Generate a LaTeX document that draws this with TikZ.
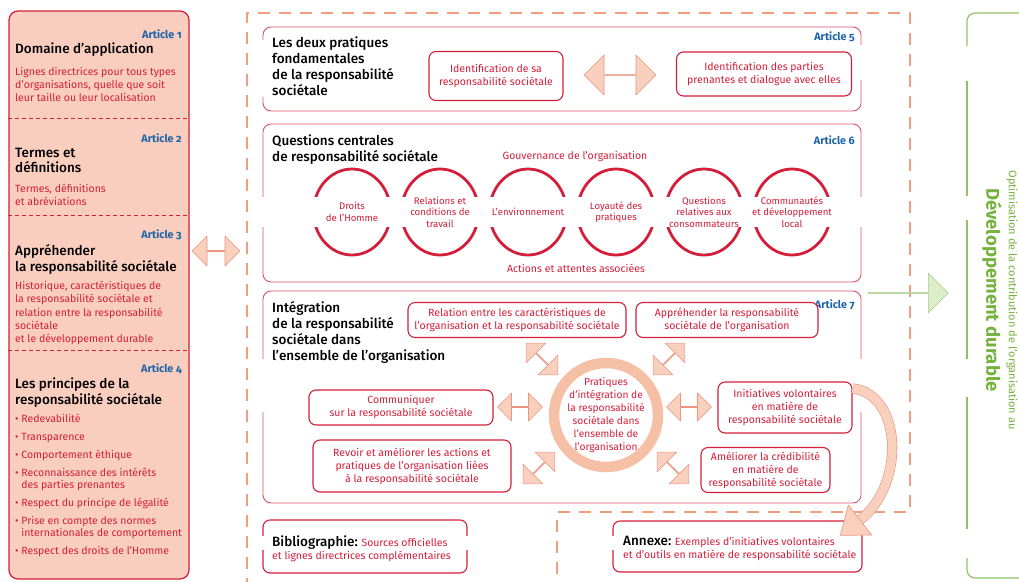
\documentclass[tikz,border=0pt]{standalone}
\usepackage{fontspec}
\setmainfont{Fira Sans}
\newfontfamily\headfont[Ligatures=TeX]{Fira Sans Medium}
\usetikzlibrary{shapes.arrows}
\usetikzlibrary{shapes.geometric}
\usetikzlibrary{positioning}

\definecolor{isored}{RGB}{212,30,58}
\definecolor{boxred}{RGB}{222,80,102}
\definecolor{artblue}{RGB}{28,100,170}
\definecolor{panelfill}{RGB}{249,206,190}
\definecolor{arrowfill}{RGB}{249,207,190}
\definecolor{arrowline}{RGB}{235,148,128}
\definecolor{frameorange}{RGB}{241,158,125}
\definecolor{ringfill}{RGB}{246,192,167}
\definecolor{devgreen}{RGB}{118,178,62}
\definecolor{greenfill}{RGB}{221,236,203}
\definecolor{greenline}{RGB}{168,204,132}

\newcommand{\artfont}{\fontsize{10.8}{12}\selectfont\bfseries\addfontfeatures{Numbers=OldStyle}}

\begin{document}
\begin{tikzpicture}[x=1pt, y=-1pt, line join=round,
  article/.style={font=\artfont, text=artblue, inner sep=0pt, anchor=north east},
  heading/.style={font=\fontsize{13.5}{16}\headfont, align=left, inner sep=0pt, anchor=north west},
  redtext/.style={font=\fontsize{10.5}{13}\selectfont, text=isored, align=left, inner sep=0pt, anchor=north west},
  panel/.style={draw=isored, fill=panelfill, line width=1.2pt, rounded corners=9pt, minimum width=180pt, minimum height=568pt, inner sep=0pt},
  divider/.style={draw=isored, dash pattern=on 4pt off 3pt, line width=0.9pt},
  frameline/.style={draw=frameorange, dash pattern=on 12pt off 9pt, line width=2.6pt},
  section/.style={draw=boxred, line width=0.9pt, rounded corners=8pt, inner sep=0pt},
  practice/.style={draw=isored, line width=1.1pt, rounded corners=7pt, fill=white, text=isored, align=center, font=\fontsize{10.5}{13}\selectfont, inner sep=0pt},
  theme/.style={ellipse, draw=isored, line width=2.8pt, minimum width=77pt, minimum height=86pt, inner sep=0pt},
  themelabel/.style={text=isored, align=center, font=\fontsize{9.6}{11.5}\selectfont, inner sep=0pt},
  both ways/.style={double arrow, draw=arrowline, fill=arrowfill, line width=0.6pt, inner sep=0pt},
  spoke/.style={both ways, minimum height=45pt, minimum width=28pt, double arrow head extend=7.5pt},
  band/.style={draw=arrowline, line width=0.6pt, double=arrowfill, double distance=9pt},
  gap/.style={fill=white},
  bracket/.style={draw=devgreen!80!white, line width=1.2pt, rounded corners=8pt}]

  \useasboundingbox (0,0) rectangle (1019,581);

  \draw[frameline] (247,590) |- (910,13) |- (557,512) -- (557,590);

  \node[panel] (panel) at (99,295) {};
  \draw[divider] (panel.west |- 0,118) -- (panel.east |- 0,118);
  \draw[divider] (panel.west |- 0,215) -- (panel.east |- 0,215);
  \draw[divider] (panel.west |- 0,350) -- (panel.east |- 0,350);

  \node[article] (art1) at (182,29.3) {Article 1};
  \node[heading] (scopetitle) at (15,42.8) {Domaine d'application};
  \node[redtext] (scopetext) at (15,67) {Lignes directrices pour tous types\\d'organisations, quelle que soit\\leur taille ou leur localisation};

  \node[article] (art2) at (182,133.3) {Article 2};
  \node[heading, font=\fontsize{13.5}{15.5}\headfont] (termstitle) at (15,147.8) {Termes et\\définitions};
  \node[redtext] (termstext) at (15,184) {Termes, définitions\\et abréviations};

  \node[article] (art3) at (182,229.3) {Article 3};
  \node[heading] (grasptitle) at (15,243.8) {Appréhender\\la responsabilité sociétale};
  \node[redtext, font=\fontsize{10.5}{13.3}\selectfont] (grasptext) at (15,281) {Historique, caractéristiques de\\la responsabilité sociétale et\\relation entre la responsabilité\\sociétale\\et le développement durable};

  \node[article] (art4) at (182,363.3) {Article 4};
  \node[heading, font=\fontsize{13.5}{15.5}\headfont] (princtitle) at (15,377.8) {Les principes de la\\responsabilité sociétale};
  \node[redtext, font=\fontsize{10.5}{12}\selectfont] (princlist) at (15,414) {%
    \textbullet\ Redevabilité\\[6pt]
    \textbullet\ Transparence\\[6pt]
    \textbullet\ Comportement éthique\\[6pt]
    \textbullet\ Reconnaissance des intérêts\\
    \hphantom{\textbullet\ }des parties prenantes\\[6pt]
    \textbullet\ Respect du principe de légalité\\[6pt]
    \textbullet\ Prise en compte des normes\\
    \hphantom{\textbullet\ }internationales de comportement\\[6pt]
    \textbullet\ Respect des droits de l'Homme};

  \node[both ways, minimum height=48pt, minimum width=30pt, double arrow head extend=8pt] (panellink) at (216,251) {};

  \node[section, minimum width=598pt, minimum height=84pt] (sec5) at (562,69) {};
  \fill[gap] (258,40) rectangle (268,97);
  \fill[gap] (856,45) rectangle (866,80);
  \node[heading] (sec5title) at (272,36.8) {Les deux pratiques\\fondamentales\\de la responsabilité\\sociétale};
  \node[article] (art5) at (855,31.5) {Article 5};
  \node[practice, minimum width=134pt, minimum height=49pt] (ownresp) at (496,76) {Identification de sa\\responsabilité sociétale};
  \node[both ways, minimum height=72pt, minimum width=40pt, double arrow head extend=10pt] (sec5arrow) at (620,75) {};
  \node[practice, minimum width=175pt, minimum height=44pt] (stakeholders) at (764,74) {Identification des parties\\prenantes et dialogue avec elles};

  \node[section, minimum width=598pt, minimum height=158pt] (sec6) at (562,203) {};
  \foreach \cx [count=\i] in {352,440,528,616,704,792}
    \node[theme] (theme\i) at (\cx,212) {};
  \fill[gap] (255,197) rectangle (869,227);
  \foreach \txt [count=\i] in {{Droits\\de l'Homme}, {Relations et\\conditions de\\travail}, {L'environnement}, {Loyauté des\\pratiques}, {Questions\\relatives aux\\consommateurs}, {Communautés\\et développement\\local}}
    \node[themelabel] (themelabel\i) at (theme\i) {\txt};
  \node[heading, font=\fontsize{13.5}{15.5}\headfont] (sec6title) at (272,134.8) {Questions centrales\\de responsabilité sociétale};
  \node[article] (art6) at (855,135.3) {Article 6};
  \node[redtext, anchor=center] (governance) at (575,157) {Gouvernance de l'organisation};
  \node[redtext, anchor=center] (actions) at (576,268) {Actions et attentes associées};

  \node[section, minimum width=598pt, minimum height=212pt] (sec7) at (562,397) {};
  \fill[gap] (258,359) rectangle (268,412);
  \fill[gap] (856,359) rectangle (866,412);
  \node[heading] (sec7title) at (272,300.8) {Intégration\\de la responsabilité\\sociétale dans\\l'ensemble de l'organisation};
  \node[article] (art7) at (855,299.3) {Article 7};
  \node[practice, minimum width=218pt, minimum height=35pt] (traits) at (517,320) {Relation entre les caractéristiques de\\l'organisation et la responsabilité sociétale};
  \node[practice, minimum width=182pt, minimum height=35pt] (understand) at (727,320) {Appréhender la responsabilité\\sociétale de l'organisation};
  \node[practice, minimum width=184pt, minimum height=35pt] (communicate) at (401,407.5) {Communiquer\\sur la responsabilité sociétale};
  \node[practice, minimum width=198pt, minimum height=52pt] (review) at (412,466) {Revoir et améliorer les actions et\\pratiques de l'organisation liées\\à la responsabilité sociétale};
  \node[practice, minimum width=134pt, minimum height=51pt] (initiatives) at (785,407.5) {Initiatives volontaires\\en matière de\\responsabilité sociétale};
  \node[practice, minimum width=129pt, minimum height=45pt] (credibility) at (765.5,470) {Améliorer la crédibilité\\en matière de\\responsabilité sociétale};
  \node[circle, draw=ringfill, line width=10.5pt, minimum size=104pt, inner sep=0pt] (hub) at (606,415) {};
  \node[themelabel, font=\fontsize{10.2}{13}\selectfont] (hublabel) at (hub) {Pratiques\\d'intégration de\\la responsabilité\\sociétale dans\\l'ensemble de\\l'organisation};
  \node[spoke, rotate=-45] (hubtraits) at (542,359) {};
  \node[spoke, rotate=45] (hubunderstand) at (669,359) {};
  \node[spoke] (hubcommunicate) at (520,407) {};
  \node[spoke] (hubinitiatives) at (689,407) {};
  \node[spoke, rotate=45] (hubreview) at (539,468) {};
  \node[spoke, rotate=-45] (hubcredibility) at (673,468) {};

  \node[practice, minimum width=204pt, minimum height=53pt] (biblio) at (365,546.5) {};
  \fill[gap] (258,536) rectangle (268,550);
  \fill[gap] (462,536) rectangle (472,550);
  \node[redtext] (bibliotext) at (272,535.8) {{\color{black}\fontsize{13.5}{13}\headfont Bibliographie:} Sources officielles\\et lignes directrices complémentaires};

  \node[practice, minimum width=249pt, minimum height=51pt] (annexe) at (737.5,546.5) {};
  \fill[gap] (608,536) rectangle (618,550);
  \node[redtext] (annexetext) at (623,535.8) {{\color{black}\fontsize{13.5}{13}\headfont Annexe:} Exemples d'initiatives volontaires\\et d'outils en matière de responsabilité sociétale};

  \coordinate (bendend) at (860,520);
  \draw[band] ([yshift=-7pt]initiatives.north east) .. controls (902,394) and (906,484) .. (bendend);
  \filldraw[fill=arrowfill, draw=arrowline, line width=0.6pt] (871.7,535) -- (840.3,535.4) -- (848.3,505) -- cycle;

  \node[single arrow, draw=greenline, fill=greenfill, line width=0.6pt, minimum height=80pt, minimum width=40pt, single arrow head extend=10pt, inner sep=0pt] (devarrow) at (908,293) {};
  \draw[bracket] (1019,13) -| (967,46);
  \draw[bracket] (967,81) -- (967,196);
  \draw[bracket] (967,220) -- (967,359);
  \draw[bracket] (967,397) -- (967,529);
  \draw[bracket] (967,558) |- (1019,578);
  \node[rotate=-90, text=devgreen, font=\fontsize{11}{13}\selectfont, inner sep=0pt] (optimise) at (1012,300) {Optimisation de la contribution de l'organisation au};
  \node[rotate=-90, text=devgreen, font=\fontsize{18.5}{22}\selectfont\bfseries, inner sep=0pt] (sustdev) at (992,290) {Développement durable};
\end{tikzpicture}
\end{document}
